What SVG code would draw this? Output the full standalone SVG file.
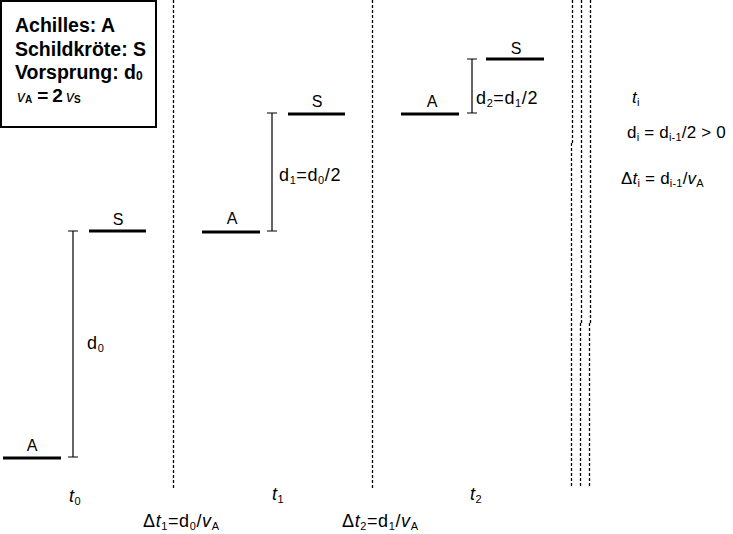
<svg xmlns="http://www.w3.org/2000/svg" width="733" height="534" viewBox="0 0 733 534">
<style>
text{font-family:"Liberation Sans",Arial,sans-serif;fill:#000}
.bar{stroke:#000;stroke-width:3.2;fill:none}
.rng{stroke:#000;stroke-width:1.2;fill:none}
.dash{stroke:#000;stroke-width:1.3;stroke-dasharray:3 2;fill:none}
.lbl{font-size:16px;text-anchor:middle}
.m{font-size:18px;letter-spacing:0.6px}
.r{font-size:17px;letter-spacing:0.2px}
.sub{font-size:11px}
.it{font-style:italic}
.bold{font-weight:bold;font-size:19.5px}
</style>
<rect width="733" height="534" fill="#fff"/>
<g id="legend">
<rect x="1" y="1" width="155" height="126" fill="#fff" stroke="#000" stroke-width="2"/>
<text x="15" y="32" class="bold">Achilles: A</text>
<text x="15" y="56" class="bold">Schildkröte: S</text>
<text x="15" y="79" class="bold">Vorsprung: d<tspan font-size="12" dy="1">0</tspan></text>
<text x="17" y="102"><tspan class="it" font-size="16">v</tspan><tspan font-weight="bold" font-size="10" dy="1">A</tspan><tspan font-weight="bold" font-size="19" dy="-1" dx="5">=</tspan><tspan font-weight="bold" font-size="19" dx="4">2</tspan><tspan class="it" font-size="16" dx="3">v</tspan><tspan font-weight="bold" font-size="10" dy="1">S</tspan></text>
</g>
<g id="connectors">
<path class="dash" d="M173.5 0V488"/>
<path class="dash" d="M372.5 0V488"/>
<path class="dash" d="M572.5 0V143M571.5 143V487"/>
<path class="dash" d="M581.5 0V323M580.5 323V487"/>
<path class="dash" d="M590.5 0V323M589.5 323V487"/>
<path class="rng" d="M73 231V457M68 231H78M68 457H78"/>
<path class="rng" d="M272 113V231M267 113H277M267 231H277"/>
<path class="rng" d="M472 59V113M467 59H477M467 113H477"/>
</g>
<g id="A0"><path class="bar" d="M3 458H61"/><text x="32" y="451" class="lbl">A</text></g>
<g id="S0"><path class="bar" d="M89 231H146"/><text x="118" y="225" class="lbl">S</text></g>
<g id="A1"><path class="bar" d="M202 232H260"/><text x="232" y="224" class="lbl">A</text></g>
<g id="S1"><path class="bar" d="M288 114H345"/><text x="317" y="107" class="lbl">S</text></g>
<g id="A2"><path class="bar" d="M401 114H459"/><text x="432" y="107" class="lbl">A</text></g>
<g id="S2"><path class="bar" d="M486 59H544"/><text x="516" y="54" class="lbl">S</text></g>
<g id="labels">
<text x="87" y="349" class="m">d<tspan class="sub" dy="3">0</tspan></text>
<text x="279" y="181" class="m">d<tspan class="sub" dy="3">1</tspan><tspan dy="-3">=d</tspan><tspan class="sub" dy="3">0</tspan><tspan dy="-3">/2</tspan></text>
<text x="476" y="104" class="m">d<tspan class="sub" dy="3">2</tspan><tspan dy="-3">=d</tspan><tspan class="sub" dy="3">1</tspan><tspan dy="-3">/2</tspan></text>
<text x="69" y="502" class="m"><tspan class="it">t</tspan><tspan class="sub" dy="3">0</tspan></text>
<text x="272" y="500" class="m"><tspan class="it">t</tspan><tspan class="sub" dy="3">1</tspan></text>
<text x="470" y="500" class="m"><tspan class="it">t</tspan><tspan class="sub" dy="3">2</tspan></text>
<text x="143" y="527" class="m">Δ<tspan class="it">t</tspan><tspan class="sub" dy="3">1</tspan><tspan dy="-3">=d</tspan><tspan class="sub" dy="3">0</tspan><tspan dy="-3">/</tspan><tspan class="it">v</tspan><tspan class="sub" dy="3">A</tspan></text>
<text x="342" y="527" class="m">Δ<tspan class="it">t</tspan><tspan class="sub" dy="3">2</tspan><tspan dy="-3">=d</tspan><tspan class="sub" dy="3">1</tspan><tspan dy="-3">/</tspan><tspan class="it">v</tspan><tspan class="sub" dy="3">A</tspan></text>
<text x="632" y="103" class="r"><tspan class="it">t</tspan><tspan class="sub" dy="3">i</tspan></text>
<text x="627" y="138" class="r">d<tspan class="sub" dy="3">i</tspan><tspan dy="-3"> = d</tspan><tspan class="sub" dy="3">i-1</tspan><tspan dy="-3">/2 &gt; 0</tspan></text>
<text x="621" y="184" class="r">Δ<tspan class="it">t</tspan><tspan class="sub" dy="3">i</tspan><tspan dy="-3"> = d</tspan><tspan class="sub" dy="3">i-1</tspan><tspan dy="-3">/</tspan><tspan class="it">v</tspan><tspan class="sub" dy="3">A</tspan></text>
</g>
</svg>
